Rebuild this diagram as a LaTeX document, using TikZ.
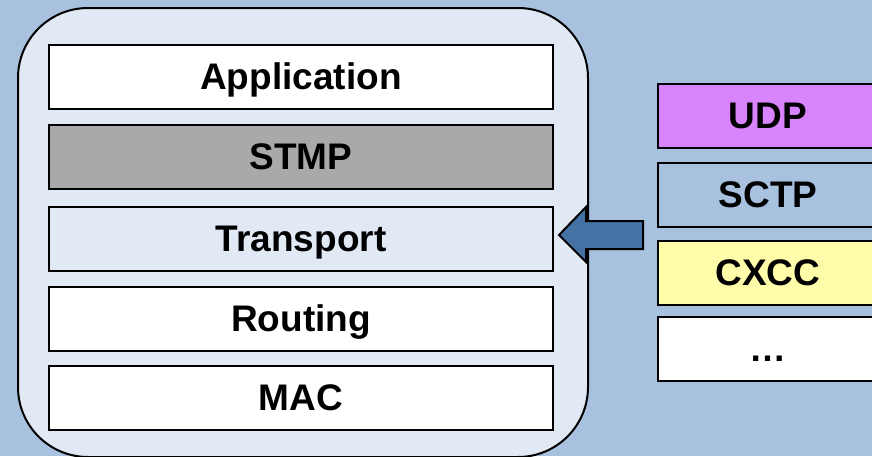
\documentclass[tikz,border=0pt]{standalone}
\usepackage{fontspec}
\setmainfont{Liberation Sans}
\definecolor{bgblue}{HTML}{A7C1DF}
\definecolor{pale}{HTML}{E1E9F4}
\definecolor{stmpgray}{HTML}{A9A9A9}
\definecolor{udppurple}{HTML}{D884FC}
\definecolor{cxccyellow}{HTML}{FFFCAA}
\definecolor{arrowblue}{HTML}{4572A4}
\begin{document}
\begin{tikzpicture}[x=1pt,y=-1pt,
  boxtext/.style={draw=black,line width=2pt,minimum height=64pt,anchor=north west,inner sep=0pt,text height=25pt,text depth=0pt,font=\fontsize{37}{40}\selectfont\bfseries},
  layer/.style={boxtext,minimum width=504pt},
  proto/.style={boxtext,minimum width=220pt}]
\fill[bgblue] (0,0) rectangle (872,456);
\useasboundingbox (0,0) rectangle (872,456);
\begin{scope}
\clip (0,0) rectangle (872,456);
\draw[fill=pale,line width=2pt,rounded corners=70pt] (18,8) rectangle (588,457);
\end{scope}
\node[layer,fill=white] (app) at (48,44) {Application};
\node[layer,fill=stmpgray] (stmp) at (48,124) {STMP};
\node[layer,fill=pale] (trans) at (48,206) {Transport};
\node[layer,fill=white] (rout) at (48,286) {Routing};
\node[layer,fill=white] (mac) at (48,365) {MAC};
\begin{scope}
\clip (0,0) rectangle (872,456);
\node[proto,fill=udppurple] (udp) at (657,83) {UDP};
\node[proto,fill=bgblue] (sctp) at (657,162) {SCTP};
\node[proto,fill=cxccyellow] (cxcc) at (657,240) {CXCC};
\node[proto,fill=white] (more) at (657,316) {\dots};
\end{scope}
\draw[fill=arrowblue,line width=2pt,line join=miter]
  (trans.east) ++(5,-4) coordinate (tip)
  -- (586,207) -- (586,221) -- (643,221) -- (643,249) -- (586,249) -- (586,262) -- cycle;
\end{tikzpicture}
\end{document}
